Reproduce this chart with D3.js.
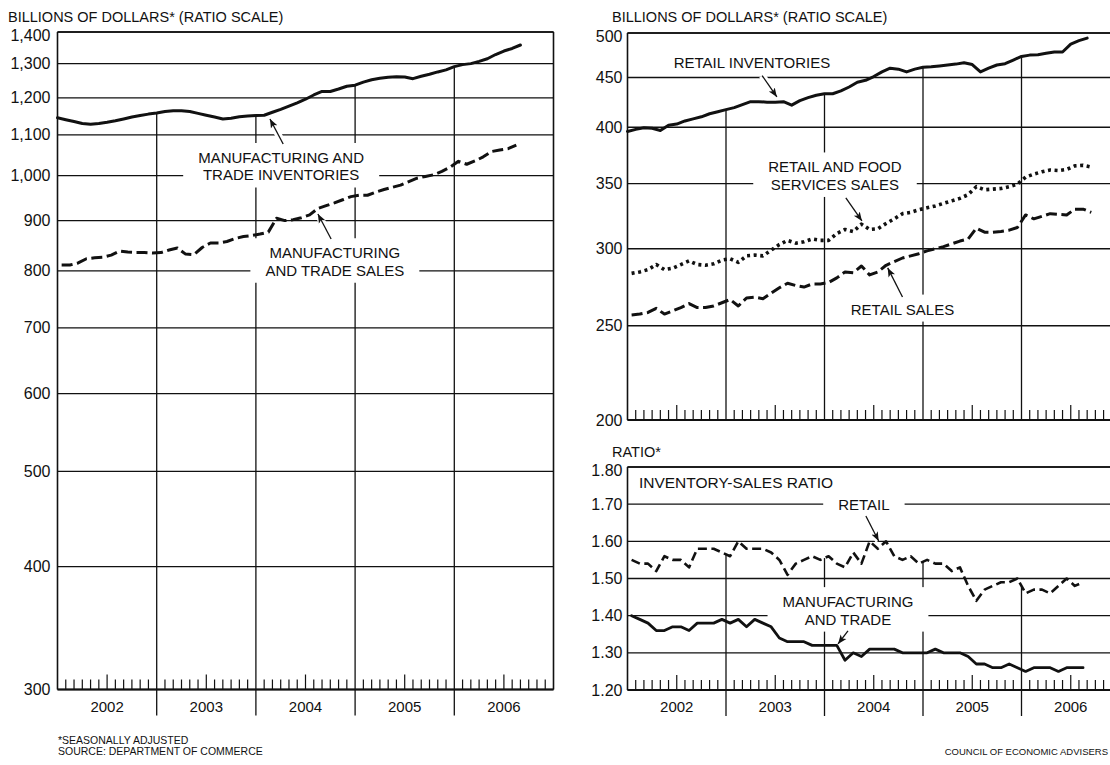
<!DOCTYPE html>
<html>
<head>
<meta charset="utf-8">
<script src="https://cdn.jsdelivr.net/npm/d3@7"></script>
<style>
body { margin: 0; background: #fff; }
text { font-family: "Liberation Sans", Arial, sans-serif; fill: #111; }
</style>
</head>
<body>
<script>
// ---- data ----
var years = [2002, 2003, 2004, 2005, 2006];
var leftTicks = [300, 400, 500, 600, 700, 800, 900, 1000, 1100, 1200, 1300, 1400];
var retailTicks = [200, 250, 300, 350, 400, 450, 500];
var ratioTicks = [1.20, 1.30, 1.40, 1.50, 1.60, 1.70, 1.80];

// stocks are end-of-month, flows are monthly (plotted mid-month)
var mtInventoriesStart = "2001-12";
var mtInventories = [1145,1140,1135,1130,1128,1130,1133,1137,1142,1147,1151,1155,
  1158,1162,1164,1164,1162,1157,1152,1147,1142,1144,1148,1150,
  1151,1152,1160,1168,1177,1186,1196,1208,1218,1218,1225,1233,
  1236,1245,1252,1256,1259,1261,1260,1255,1262,1268,1275,1281,
  1291,1297,1300,1307,1315,1328,1339,1347,1358];

var mtSalesStart = "2002-01";
var mtSales = [811,811,815,823,825,826,830,838,836,835,835,834,
  835,840,844,832,831,845,854,854,857,863,867,869,
  872,876,905,900,902,906,912,926,932,938,945,952,
  955,955,962,968,973,978,986,994,998,1002,1010,1020,
  1034,1027,1035,1045,1058,1062,1065,1074];

var retailInventoriesStart = "2001-12";
var retailInventories = [396,398,399.5,399,397,402,403,406,408,410,413,415,
  417,419,422,425,425,424.5,424.5,425,421.5,426,429,431.5,
  433,433,436,440,445,447,451,456,460,459,456,459,
  461,461.5,462.5,463.5,464.5,466,464,456,460,463.5,465,469,
  473,474.5,475,476.5,478,478,487,491,494];

var retailFoodSalesStart = "2002-01";
var retailFoodSales = [283,284,285.5,289,285.5,286.5,289,291.5,289,288.5,289.5,292,
  293,290.5,295,295.5,295,299,303,306,304,305,307,306,
  306,311,314,312.5,318,314,314.5,318.5,322,326,327,329,
  330.5,332,334,336,338,341,347.5,345,345.5,346,347.5,349.5,
  355.5,358,360,361.5,361,362,365,365.5,364];

var retailSalesStart = "2002-01";
var retailSales = [256.5,257,258,260.5,257,259,261,263.5,261,261,262,264,
  266,262,267,267.5,266.5,270,273.5,276.5,275,274,276,276,
  277,280,284,283.5,288,282,284,288.5,291,293.5,295,296.5,
  298.5,300,301.5,303.5,305.5,307,315,312,312,312.5,313.5,315.5,
  325,322,324,326,325.5,325,329.5,329.5,327];

var ratioStart = "2002-01";
var retailRatio = [1.55,1.54,1.54,1.52,1.56,1.55,1.55,1.53,1.58,1.58,1.58,1.57,
  1.56,1.60,1.58,1.58,1.58,1.57,1.55,1.51,1.54,1.55,1.56,1.55,
  1.56,1.54,1.53,1.57,1.54,1.60,1.58,1.60,1.56,1.55,1.56,1.54,
  1.55,1.54,1.54,1.52,1.53,1.48,1.44,1.47,1.48,1.49,1.49,1.50,
  1.46,1.47,1.47,1.46,1.48,1.50,1.48,1.49];
var mtRatio = [1.40,1.39,1.38,1.36,1.36,1.37,1.37,1.36,1.38,1.38,1.38,1.39,
  1.38,1.39,1.37,1.39,1.38,1.37,1.34,1.33,1.33,1.33,1.32,1.32,
  1.32,1.32,1.28,1.30,1.29,1.31,1.31,1.31,1.31,1.30,1.30,1.30,
  1.30,1.31,1.30,1.30,1.30,1.29,1.27,1.27,1.26,1.26,1.27,1.26,
  1.25,1.26,1.26,1.26,1.25,1.26,1.26,1.26];

// ---- helpers ----
var W = 1110, H = 765;
var svg = d3.select("body").append("svg").attr("width", W).attr("height", H);

svg.append("defs").append("marker")
    .attr("id", "arrow")
    .attr("viewBox", "0 0 10 10")
    .attr("refX", 10).attr("refY", 5)
    .attr("markerWidth", 9).attr("markerHeight", 9)
    .attr("markerUnits", "userSpaceOnUse")
    .attr("orient", "auto")
  .append("path")
    .attr("d", "M0,1 L10,5 L0,9 L2.5,5 Z")
    .attr("fill", "#111");

function monthIndex(s) {
    var p = s.split("-");
    return (+p[0] - 2002) * 12 + (+p[1] - 1);
}
function points(values, start, kind) {
    var m0 = monthIndex(start) + (kind === "stock" ? 1 : 0.5);
    return values.map(function(v, i) { return {m: m0 + i, v: v}; });
}
function valueAt(pts, m) {
    if (m <= pts[0].m) return pts[0].v;
    for (var i = 1; i < pts.length; i++) {
        if (pts[i].m >= m) {
            var a = pts[i - 1], b = pts[i];
            return a.v + (b.v - a.v) * (m - a.m) / (b.m - a.m);
        }
    }
    return pts[pts.length - 1].v;
}

function drawPanel(c) {
    var x = d3.scaleLinear().domain([0, 60]).range([c.x0, c.x1]);
    var y = c.y;
    var bottom = y.range()[0], top = y.range()[1];

    var gGrid = svg.append("g");
    var gKnock = svg.append("g");
    var gHalo = svg.append("g");
    var gSeries = svg.append("g");
    var gArrow = svg.append("g");
    var gText = svg.append("g");

    // horizontal grid
    gGrid.selectAll(".h").data(c.ticks).enter().append("line")
        .attr("x1", c.x0).attr("x2", c.x1)
        .attr("y1", function(d) { return y(d); })
        .attr("y2", function(d) { return y(d); })
        .attr("stroke", "#111").attr("stroke-width", 1.3);

    // year lines, from the axis (or the label strip) up to the top series
    var topPts = c.series[0].pts;
    gGrid.selectAll(".v").data([12, 24, 36, 48]).enter().append("line")
        .attr("x1", x).attr("x2", x)
        .attr("y1", c.yearLabels ? bottom + 26 : bottom)
        .attr("y2", function(m) { return y(valueAt(topPts, m)); })
        .attr("stroke", "#111").attr("stroke-width", 1.3);

    // frame
    gGrid.append("line").attr("x1", c.x0).attr("x2", c.x1).attr("y1", top).attr("y2", top)
        .attr("stroke", "#111").attr("stroke-width", 1.6);
    gGrid.append("line").attr("x1", c.x0).attr("x2", c.x0).attr("y1", top).attr("y2", bottom)
        .attr("stroke", "#111").attr("stroke-width", 1.6);
    gGrid.append("line").attr("x1", c.x1).attr("x2", c.x1).attr("y1", top).attr("y2", bottom)
        .attr("stroke", "#111").attr("stroke-width", 1.6);
    gGrid.append("line").attr("x1", c.x0).attr("x2", c.x1).attr("y1", bottom).attr("y2", bottom)
        .attr("stroke", "#111").attr("stroke-width", 2.2);

    // month ticks
    gGrid.selectAll(".t").data(d3.range(1, 60).filter(function(m) { return m % 12; }))
        .enter().append("line")
        .attr("x1", x).attr("x2", x)
        .attr("y1", bottom)
        .attr("y2", function(m) { return bottom - (m % 12 === 6 ? 15 : 10); })
        .attr("stroke", "#111").attr("stroke-width", 1.2);

    // y labels (top one nudged down inside the frame)
    gText.selectAll(".yl").data(c.ticks).enter().append("text")
        .attr("x", c.x0 - c.labelGap)
        .attr("y", function(d, i) { return y(d) + 5.5 + (i === c.ticks.length - 1 ? 3 : 0); })
        .attr("text-anchor", "end")
        .style("font-size", "16px")
        .text(c.fmt);

    // year labels
    if (c.yearLabels) {
        gText.selectAll(".yr").data(years).enter().append("text")
            .attr("x", function(d, i) { return x(i * 12 + 6); })
            .attr("y", bottom + 22)
            .attr("text-anchor", "middle")
            .style("font-size", "15px")
            .text(function(d) { return d; });
    }

    // arrows (halo first so gridlines break around them)
    c.arrows.forEach(function(a) {
        var p = {x1: x(a.from[0]), y1: y(a.from[1]), x2: x(a.to[0]), y2: y(a.to[1])};
        gHalo.append("line").attr("x1", p.x1).attr("y1", p.y1).attr("x2", p.x2).attr("y2", p.y2)
            .attr("stroke", "#fff").attr("stroke-width", 7);
        gArrow.append("line").attr("x1", p.x1).attr("y1", p.y1).attr("x2", p.x2).attr("y2", p.y2)
            .attr("stroke", "#111").attr("stroke-width", 1.3)
            .attr("marker-end", "url(#arrow)");
    });

    // series
    var line = d3.line()
        .x(function(d) { return x(d.m); })
        .y(function(d) { return y(d.v); });
    c.series.forEach(function(s) {
        gSeries.append("path")
            .attr("d", line(s.pts))
            .attr("fill", "none")
            .attr("stroke", "#111")
            .attr("stroke-width", s.width)
            .attr("stroke-dasharray", s.dash || null)
            .attr("stroke-linejoin", "round")
            .attr("stroke-linecap", s.dash ? "butt" : "round");
    });

    // labels with white knockout behind
    c.labels.forEach(function(l) {
        var t = gText.append("text")
            .attr("x", x(l.at[0]))
            .attr("y", y(l.at[1]))
            .attr("text-anchor", l.anchor || "middle")
            .style("font-size", (l.size || 15) + "px");
        l.lines.forEach(function(s, i) {
            t.append("tspan").attr("x", x(l.at[0])).attr("dy", i ? 17.5 : 0).text(s);
        });
        if (l.knock !== false) {
            var b = t.node().getBBox();
            gKnock.append("rect")
                .attr("x", b.x - 15).attr("y", b.y - 6)
                .attr("width", b.width + 30).attr("height", b.height + 10)
                .attr("fill", "#fff");
        }
    });
    return x;
}

// ---- left panel: manufacturing and trade ----
svg.append("text").attr("x", 8).attr("y", 22).style("font-size", "14.5px")
    .text("BILLIONS OF DOLLARS* (RATIO SCALE)");

drawPanel({
    x0: 57.5, x1: 553.5,
    y: d3.scaleLog().domain([300, 1400]).range([689.5, 32]),
    ticks: leftTicks, fmt: d3.format(","), labelGap: 7, yearLabels: true,
    series: [
        {pts: points(mtInventories, mtInventoriesStart, "stock"), width: 3},
        {pts: points(mtSales, mtSalesStart, "flow"), width: 3, dash: "11,4.5"}
    ],
    labels: [
        {at: [27.05, 1030], lines: ["MANUFACTURING AND", "TRADE INVENTORIES"]},
        {at: [33.55, 824], lines: ["MANUFACTURING", "AND TRADE SALES"]}
    ],
    arrows: [
        {from: [27.3, 1077], to: [25.7, 1142]},
        {from: [33.1, 862], to: [31.5, 914]}
    ]
});

// ---- right top panel: retail ----
svg.append("text").attr("x", 612).attr("y", 22).style("font-size", "14.5px")
    .text("BILLIONS OF DOLLARS* (RATIO SCALE)");

drawPanel({
    x0: 627.5, x1: 1120,
    y: d3.scaleLog().domain([200, 500]).range([420, 33]),
    ticks: retailTicks, fmt: d3.format("d"), labelGap: 5, yearLabels: false,
    series: [
        {pts: points(retailInventories, retailInventoriesStart, "stock"), width: 3},
        {pts: points(retailFoodSales, retailFoodSalesStart, "flow"), width: 3.6, dash: "3,3.6"},
        {pts: points(retailSales, retailSalesStart, "flow"), width: 3, dash: "11,4.5"}
    ],
    labels: [
        {at: [15.16, 460], lines: ["RETAIL INVENTORIES"]},
        {at: [25.27, 359.4], lines: ["RETAIL AND FOOD", "SERVICES SALES"]},
        {at: [33.5, 256.7], lines: ["RETAIL SALES"]}
    ],
    arrows: [
        {from: [16.4, 452], to: [18.2, 429.8]},
        {from: [26.6, 338.4], to: [28.56, 320.4]},
        {from: [33.5, 267.6], to: [31.7, 286.7]}
    ]
});

// ---- right bottom panel: inventory-sales ratio ----
svg.append("text").attr("x", 612).attr("y", 457).style("font-size", "14.5px").text("RATIO*");

drawPanel({
    x0: 627.5, x1: 1120,
    y: d3.scaleLinear().domain([1.2, 1.8]).range([690, 467]),
    ticks: ratioTicks, fmt: d3.format(".2f"), labelGap: 5, yearLabels: true,
    series: [
        {pts: points(retailRatio, ratioStart, "flow"), width: 2.6, dash: "9,4.5"},
        {pts: points(mtRatio, ratioStart, "flow"), width: 2.8}
    ],
    labels: [
        {at: [1.39, 1.743], lines: ["INVENTORY-SALES RATIO"], anchor: "start", size: 15.5, knock: false},
        {at: [28.8, 1.684], lines: ["RETAIL"]},
        {at: [26.86, 1.423], lines: ["MANUFACTURING", "AND TRADE"]}
    ],
    arrows: [
        {from: [29.04, 1.668], to: [30.6, 1.601]},
        {from: [26.86, 1.359], to: [25.65, 1.324]}
    ]
});

// ---- footer ----
svg.append("text").attr("x", 58).attr("y", 744).style("font-size", "10.5px").text("*SEASONALLY ADJUSTED");
svg.append("text").attr("x", 58).attr("y", 755).style("font-size", "10.5px").text("SOURCE: DEPARTMENT OF COMMERCE");
svg.append("text").attr("x", 1108).attr("y", 755).attr("text-anchor", "end").style("font-size", "9.5px")
    .text("COUNCIL OF ECONOMIC ADVISERS");
</script>
</body>
</html>
